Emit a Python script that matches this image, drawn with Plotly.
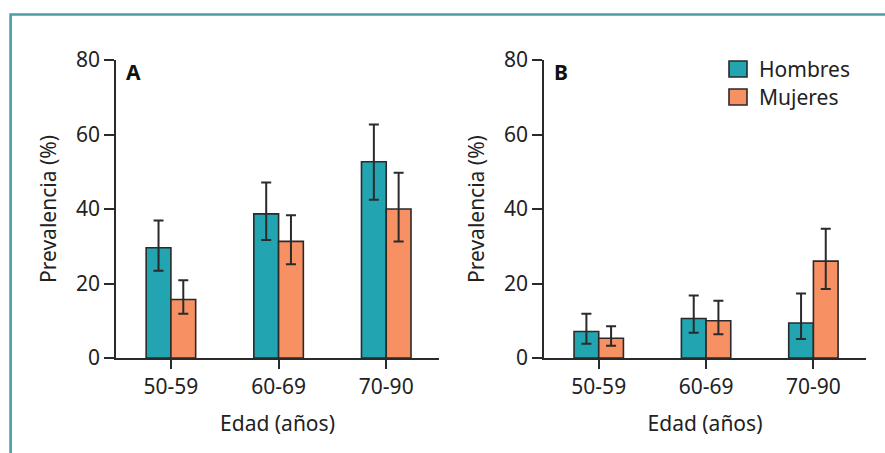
import plotly.graph_objects as go

# ---- data ----
categories = ["50-59", "60-69", "70-90"]

a_hombres = [29.6, 38.7, 52.7]
a_hombres_hi = [36.9, 47.1, 62.7]
a_hombres_lo = [23.4, 31.7, 42.5]
a_mujeres = [15.7, 31.3, 40.0]
a_mujeres_hi = [20.9, 38.3, 49.7]
a_mujeres_lo = [11.9, 25.2, 31.3]

b_hombres = [7.1, 10.6, 9.4]
b_hombres_hi = [11.9, 16.8, 17.3]
b_hombres_lo = [3.8, 6.8, 5.1]
b_mujeres = [5.3, 10.0, 26.0]
b_mujeres_hi = [8.5, 15.4, 34.7]
b_mujeres_lo = [3.3, 6.4, 18.5]

y_ticks = [0, 20, 40, 60, 80]
series_names = ["Hombres", "Mujeres"]

# ---- style ----
W, H = 885, 453
TEAL = "#22A4B1"
ORANGE = "#F79164"
DARK = "#2a2a2a"
FRAME = "#4C9DA6"
FONT = "Noto Sans, Open Sans, sans-serif"
FS = 21

def px_x(p):
    return p / W

def px_y(p):
    return 1 - p / H

fig = go.Figure()

def add_pair(xa, ya, vals_h, hi_h, lo_h, vals_m, hi_m, lo_m):
    for name, vals, hi, lo, col in [
        ("Hombres", vals_h, hi_h, lo_h, TEAL),
        ("Mujeres", vals_m, hi_m, lo_m, ORANGE),
    ]:
        fig.add_trace(go.Bar(
            x=categories, y=vals, name=name, xaxis=xa, yaxis=ya,
            marker=dict(color=col, line=dict(color=DARK, width=1.6)),
            error_y=dict(type="data", symmetric=False,
                         array=[h - v for h, v in zip(hi, vals)],
                         arrayminus=[v - l for v, l in zip(vals, lo)],
                         color=DARK, thickness=2, width=5),
            showlegend=False, offsetgroup=name,
        ))

add_pair("x", "y", a_hombres, a_hombres_hi, a_hombres_lo, a_mujeres, a_mujeres_hi, a_mujeres_lo)
add_pair("x2", "y2", b_hombres, b_hombres_hi, b_hombres_lo, b_mujeres, b_mujeres_hi, b_mujeres_lo)

y_dom = [px_y(358), px_y(60)]
common_x = dict(
    type="category", range=[-0.51, 2.49], showline=True, linecolor=DARK, linewidth=1.6,
    ticks="outside", ticklen=9, tickwidth=1.6, tickcolor=DARK, showgrid=False,
    zeroline=False, tickfont=dict(family=FONT, size=FS, color="#222"), automargin=False,
    title=dict(text="Edad (años)", font=dict(family=FONT, size=FS, color="#222"), standoff=17),
)
common_y = dict(
    range=[0, 80], tickvals=y_ticks, showline=True, linecolor=DARK, linewidth=1.6,
    ticks="outside", ticklen=10, tickwidth=1.6, tickcolor=DARK, showgrid=False,
    zeroline=False, tickfont=dict(family=FONT, size=FS, color="#222"), automargin=False,
    title=dict(text="Prevalencia (%)", font=dict(family=FONT, size=FS, color="#222"), standoff=14),
    domain=y_dom,
)

fig.update_layout(
    width=W, height=H, margin=dict(l=0, r=0, t=0, b=0, autoexpand=False),
    paper_bgcolor="white", plot_bgcolor="white",
    barmode="group", bargap=0.54, bargroupgap=0,
    xaxis={**common_x, "domain": [px_x(116), px_x(439)], "anchor": "y"},
    yaxis={**common_y, "anchor": "x"},
    xaxis2={**common_x, "domain": [px_x(544), px_x(866)], "anchor": "y2"},
    yaxis2={**common_y, "anchor": "x2"},
    showlegend=False,
)

# panel letters
for txt, x in [("A", 124), ("B", 552)]:
    fig.add_annotation(text=f"<b>{txt}</b>", x=px_x(x), y=px_y(56), xref="paper", yref="paper",
                       xanchor="left", yanchor="top", showarrow=False,
                       font=dict(family=FONT, size=FS, color="#111"))

# manual legend
for i, (name, col) in enumerate(zip(series_names, [TEAL, ORANGE])):
    y0 = 61 + i * 28
    fig.add_shape(type="rect", xref="paper", yref="paper",
                  x0=px_x(729), x1=px_x(747), y0=px_y(y0), y1=px_y(y0 + 16),
                  fillcolor=col, line=dict(color=DARK, width=1.6))
    fig.add_annotation(text=name, x=px_x(757), y=px_y(y0 + 8), xref="paper", yref="paper",
                       xanchor="left", yanchor="middle", showarrow=False,
                       font=dict(family=FONT, size=FS, color="#222"))

# frame
fig.add_shape(type="path", xref="paper", yref="paper",
              path=f"M {px_x(10.6)},{px_y(460)} L {px_x(10.6)},{px_y(14.5)} L {px_x(890)},{px_y(14.5)}",
              line=dict(color=FRAME, width=2.6))

fig.write_html("out.html", config={"displayModeBar": False},
               post_script="document.body.style.margin='0';")
